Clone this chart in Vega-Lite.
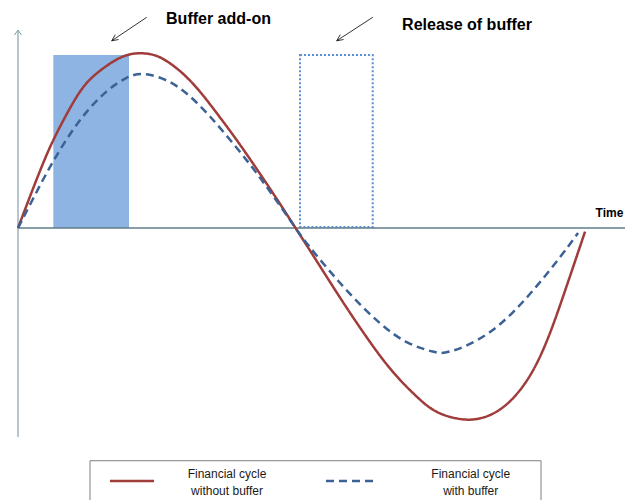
{
  "$schema": "https://vega.github.io/schema/vega-lite/v6.json",
  "width": 625,
  "height": 500,
  "padding": 0,
  "autosize": {"type": "none"},
  "background": "white",
  "config": {"view": {"stroke": null}},
  "datasets": {
    "buffer": [{"t": 6.23, "t2": 19.58, "v": 0.989, "v2": 0}],
    "release": [{"t": 49.74, "t2": 62.56, "v": 0.989, "v2": 0.006}],
    "xaxis": [{"t": 0, "t2": 107.05, "v": 0}],
    "yaxis": [{"t": 0, "v": -1.194, "v2": 1.131}],
    "yarrow": [
      {"i": 0, "t": -0.62, "v": 1.103},
      {"i": 1, "t": 0, "v": 1.131},
      {"i": 2, "t": 0.62, "v": 1.103}
    ],
    "cycles": [
      {"series": "without", "t": 0, "v": 0},
      {"series": "without", "t": 2.7, "v": 0.231},
      {"series": "without", "t": 4.46, "v": 0.374},
      {"series": "without", "t": 6.23, "v": 0.509},
      {"series": "without", "t": 10.35, "v": 0.76},
      {"series": "without", "t": 12.7, "v": 0.857},
      {"series": "without", "t": 16.23, "v": 0.943},
      {"series": "without", "t": 18.87, "v": 0.99},
      {"series": "without", "t": 21.52, "v": 1.003},
      {"series": "without", "t": 24.46, "v": 0.99},
      {"series": "without", "t": 26.81, "v": 0.943},
      {"series": "without", "t": 29.15, "v": 0.884},
      {"series": "without", "t": 32.1, "v": 0.783},
      {"series": "without", "t": 35.04, "v": 0.657},
      {"series": "without", "t": 38.57, "v": 0.505},
      {"series": "without", "t": 42.1, "v": 0.338},
      {"series": "without", "t": 45.63, "v": 0.168},
      {"series": "without", "t": 48.94, "v": 0},
      {"series": "without", "t": 52.03, "v": -0.155},
      {"series": "without", "t": 56.79, "v": -0.4},
      {"series": "without", "t": 61.5, "v": -0.628},
      {"series": "without", "t": 66.14, "v": -0.833},
      {"series": "without", "t": 70.9, "v": -0.983},
      {"series": "without", "t": 72.66, "v": -1.03},
      {"series": "without", "t": 75.01, "v": -1.073},
      {"series": "without", "t": 79.14, "v": -1.102},
      {"series": "without", "t": 82.06, "v": -1.087},
      {"series": "without", "t": 84.43, "v": -1.053},
      {"series": "without", "t": 86.77, "v": -0.995},
      {"series": "without", "t": 89.12, "v": -0.907},
      {"series": "without", "t": 91.48, "v": -0.783},
      {"series": "without", "t": 93.83, "v": -0.606},
      {"series": "without", "t": 96.12, "v": -0.394},
      {"series": "without", "t": 100, "v": -0.021},
      {"series": "with", "t": 0, "v": 0},
      {"series": "with", "t": 3.88, "v": 0.245},
      {"series": "with", "t": 6.23, "v": 0.385},
      {"series": "with", "t": 9.17, "v": 0.54},
      {"series": "with", "t": 12.12, "v": 0.67},
      {"series": "with", "t": 15.64, "v": 0.787},
      {"series": "with", "t": 19.17, "v": 0.866},
      {"series": "with", "t": 22.1, "v": 0.891},
      {"series": "with", "t": 26.81, "v": 0.843},
      {"series": "with", "t": 30.34, "v": 0.757},
      {"series": "with", "t": 33.86, "v": 0.64},
      {"series": "with", "t": 37.39, "v": 0.505},
      {"series": "with", "t": 40.92, "v": 0.365},
      {"series": "with", "t": 43.86, "v": 0.236},
      {"series": "with", "t": 46.74, "v": 0.103},
      {"series": "with", "t": 48.94, "v": 0},
      {"series": "with", "t": 50.92, "v": -0.09},
      {"series": "with", "t": 55.03, "v": -0.25},
      {"series": "with", "t": 59.08, "v": -0.398},
      {"series": "with", "t": 63.84, "v": -0.55},
      {"series": "with", "t": 68.55, "v": -0.664},
      {"series": "with", "t": 73.84, "v": -0.714},
      {"series": "with", "t": 74.96, "v": -0.717},
      {"series": "with", "t": 78.48, "v": -0.686},
      {"series": "with", "t": 83.25, "v": -0.602},
      {"series": "with", "t": 87.3, "v": -0.486},
      {"series": "with", "t": 91.48, "v": -0.335},
      {"series": "with", "t": 95.59, "v": -0.168},
      {"series": "with", "t": 98.77, "v": -0.029}
    ],
    "arrows": [
      {"seg": "a1", "i": 0, "t": 22.7, "v": 1.204},
      {"seg": "a1", "i": 1, "t": 16.53, "v": 1.07},
      {"seg": "h1", "i": 0, "t": 17.74, "v": 1.077},
      {"seg": "h1", "i": 1, "t": 16.53, "v": 1.07},
      {"seg": "h1", "i": 2, "t": 17.16, "v": 1.105},
      {"seg": "a2", "i": 0, "t": 62.56, "v": 1.204},
      {"seg": "a2", "i": 1, "t": 56.21, "v": 1.07},
      {"seg": "h2", "i": 0, "t": 57.42, "v": 1.077},
      {"seg": "h2", "i": 1, "t": 56.21, "v": 1.07},
      {"seg": "h2", "i": 2, "t": 56.84, "v": 1.105}
    ],
    "annotations": [
      {"t": 35.36, "v": 1.166, "label": "Buffer add-on"},
      {"t": 79.19, "v": 1.134, "label": "Release of buffer"}
    ],
    "timelabel": [{"t": 104.3, "v": 0.065, "label": "Time"}],
    "legendbox": [{"t": 12.7, "t2": 92.24, "v": -1.33, "v2": -1.6}],
    "legendlines": [
      {"series": "without", "t": 16.23, "t2": 23.99, "v": -1.446},
      {"series": "with", "t": 54.32, "t2": 62.61, "v": -1.446}
    ],
    "legendtext": [
      {"t": 36.86, "v": -1.43, "label": "Financial cycle"},
      {"t": 36.86, "v": -1.526, "label": "without buffer"},
      {"t": 79.84, "v": -1.43, "label": "Financial cycle"},
      {"t": 79.84, "v": -1.526, "label": "with buffer"}
    ]
  },
  "encoding": {
    "x": {"field": "t", "type": "quantitative", "scale": {"domain": [-3.175, 107.05], "nice": false, "zero": false}, "axis": null},
    "y": {"field": "v", "type": "quantitative", "scale": {"domain": [-1.5543, 1.3029], "nice": false, "zero": false}, "axis": null}
  },
  "layer": [
    {
      "data": {"name": "buffer"},
      "mark": {"type": "rect", "fill": "#8EB4E3"},
      "encoding": {"x2": {"field": "t2"}, "y2": {"field": "v2"}}
    },
    {
      "data": {"name": "release"},
      "mark": {"type": "rect", "fill": "transparent", "stroke": "#5B8FD9", "strokeWidth": 2, "strokeDash": [2, 2]},
      "encoding": {"x2": {"field": "t2"}, "y2": {"field": "v2"}}
    },
    {
      "data": {"name": "xaxis"},
      "mark": {"type": "rule", "stroke": "#5F7C8A", "strokeWidth": 1.5},
      "encoding": {"x2": {"field": "t2"}}
    },
    {
      "data": {"name": "yaxis"},
      "mark": {"type": "rule", "stroke": "#9DB3C1", "strokeWidth": 1.5},
      "encoding": {"y2": {"field": "v2"}}
    },
    {
      "data": {"name": "yarrow"},
      "mark": {"type": "line", "stroke": "#7F9BAA", "strokeWidth": 1},
      "encoding": {"order": {"field": "i"}}
    },
    {
      "data": {"name": "cycles"},
      "mark": {"type": "line", "interpolate": "basis", "strokeWidth": 2.5},
      "encoding": {
        "color": {"field": "series", "type": "nominal", "scale": {"domain": ["without", "with"], "range": ["#A03C3A", "#3C6295"]}, "legend": null},
        "strokeDash": {"field": "series", "type": "nominal", "scale": {"domain": ["without", "with"], "range": [[1, 0], [8, 5]]}, "legend": null}
      }
    },
    {
      "data": {"name": "arrows"},
      "mark": {"type": "line", "stroke": "#000000", "strokeWidth": 0.8},
      "encoding": {"detail": {"field": "seg"}, "order": {"field": "i"}}
    },
    {
      "data": {"name": "annotations"},
      "mark": {"type": "text", "font": "Liberation Sans", "fontSize": 16, "fontWeight": "bold", "align": "center", "baseline": "alphabetic", "color": "#000000"},
      "encoding": {"text": {"field": "label"}}
    },
    {
      "data": {"name": "timelabel"},
      "mark": {"type": "text", "font": "Liberation Sans", "fontSize": 12, "fontWeight": "bold", "align": "center", "baseline": "alphabetic", "color": "#000000"},
      "encoding": {"text": {"field": "label"}}
    },
    {
      "data": {"name": "legendbox"},
      "mark": {"type": "rect", "fill": "transparent", "stroke": "#7F7F7F", "strokeWidth": 1},
      "encoding": {"x2": {"field": "t2"}, "y2": {"field": "v2"}}
    },
    {
      "data": {"name": "legendlines"},
      "mark": {"type": "rule", "strokeWidth": 2.5},
      "encoding": {
        "x2": {"field": "t2"},
        "color": {"field": "series", "type": "nominal", "scale": {"domain": ["without", "with"], "range": ["#A03C3A", "#3C6295"]}, "legend": null},
        "strokeDash": {"field": "series", "type": "nominal", "scale": {"domain": ["without", "with"], "range": [[1, 0], [8, 5]]}, "legend": null}
      }
    },
    {
      "data": {"name": "legendtext"},
      "mark": {"type": "text", "font": "Liberation Sans", "fontSize": 12, "align": "center", "baseline": "alphabetic", "color": "#1A1A1A"},
      "encoding": {"text": {"field": "label"}}
    }
  ]
}
